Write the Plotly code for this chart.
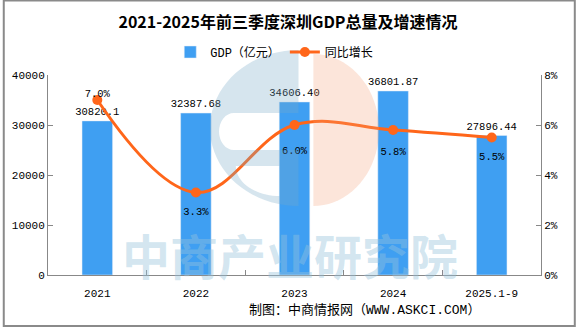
import math
import plotly.graph_objects as go

# ---- data ----
years = ["2021", "2022", "2023", "2024", "2025.1-9"]
gdp = [30820.1, 32387.68, 34606.40, 36801.87, 27896.44]
gdp_text = ["30820.1", "32387.68", "34606.40", "36801.87", "27896.44"]
growth = [7.0, 3.3, 6.0, 5.8, 5.5]
growth_text = ["7.0%", "3.3%", "6.0%", "5.8%", "5.5%"]
growth_pos = ["top center", "bottom center", "bottom center", "bottom center", "bottom center"]

W, H = 576, 327
L, R, T, B = 45, 35, 75, 52
PW, PH = W - L - R, H - T - B

def px(x, y):
    return ((x - L) / PW, (H - B - y) / PH)

def path_from(points_list):
    s = ""
    for pts in points_list:
        for i, (x, y) in enumerate(pts):
            fx, fy = px(x, y)
            s += ("M" if i == 0 else "L") + f"{fx:.4f},{fy:.4f} "
        s += "Z "
    return s

def arc(cx, cy, rx, ry, a0, a1, n=40):
    pts = []
    for i in range(n + 1):
        a = math.radians(a0 + (a1 - a0) * i / n)
        pts.append((cx + rx * math.cos(a), cy - ry * math.sin(a)))
    return pts

FONT = "Liberation Mono, Noto Sans CJK SC, monospace"
BLUE = "#3F9FF2"
ORANGE = "#FF661A"

fig = go.Figure()
fig.add_trace(go.Bar(
    x=years, y=gdp, name="GDP（亿元）", marker_color=BLUE, width=0.31,
    text=gdp_text, textposition="outside", constraintext="none",
    textfont=dict(size=10.5, color="#000", family=FONT),
    cliponaxis=False, yaxis="y",
))
fig.add_trace(go.Scatter(
    x=years, y=growth, name="同比增长", mode="lines+markers",
    line=dict(color=ORANGE, width=3, shape="spline", smoothing=1.1),
    marker=dict(size=10, color=ORANGE),
    cliponaxis=False, yaxis="y2",
))
# percentage labels (invisible markers to control offset)
fig.add_trace(go.Scatter(
    x=years, y=growth, mode="markers+text", showlegend=False, hoverinfo="skip",
    marker=dict(size=[0, 22, 32, 26, 22], color="rgba(0,0,0,0)", opacity=0,
                line=dict(width=0, color="rgba(0,0,0,0)")),
    text=growth_text, textposition=growth_pos,
    textfont=dict(size=10.5, color="#000", family=FONT),
    cliponaxis=False, yaxis="y2",
))

# watermark logo
outer = arc(297, 128, 89, 78, 90, 270)
slot = [(297, 113), (297, 150), (232, 150)] + arc(232, 131.5, 15, 18.5, 270, 90, 16)[1:-1] + [(232, 113)]
hole2 = [(278, 166), (278, 196)] + arc(278, 166, 44, 30, 270, 180, 20)[1:]
blue_path = path_from([outer, slot, hole2])
orange = arc(312, 130, 66, 76, 90, -90)
orange_path = path_from([orange])

shapes = [
    dict(type="path", xref="paper", yref="paper", path=blue_path,
         fillcolor="rgba(120,170,200,0.30)", line=dict(width=0), layer="above"),
    dict(type="path", xref="paper", yref="paper", path=orange_path,
         fillcolor="rgba(245,160,120,0.27)", line=dict(width=0), layer="above"),
]
x0, y0 = px(0.5, 0.5)
x1, y1 = px(W - 1, H - 1)
shapes.append(dict(type="rect", xref="paper", yref="paper", x0=x0, y0=y1, x1=x1, y1=y0,
                   line=dict(color="#8a8a8a", width=2), fillcolor="rgba(0,0,0,0)", layer="above"))

annotations = [
    dict(text="<b>中商产业研究院</b>", xref="paper", yref="paper", x=px(288, 0)[0], y=px(0, 254)[1],
         showarrow=False, font=dict(size=48, color="rgba(150,195,220,0.42)", family="Noto Sans CJK SC"),
         xanchor="center", yanchor="middle"),
    dict(text="制图：中商情报网（WWW.ASKCI.COM）", xref="paper", yref="paper",
         x=px(482, 0)[0], y=px(0, 310)[1], showarrow=False,
         font=dict(size=13, color="#000", family=FONT), xanchor="right", yanchor="middle"),
]

fig.update_layout(
    width=W, height=H, margin=dict(l=L, r=R, t=T, b=B),
    paper_bgcolor="white", plot_bgcolor="white",
    title=dict(text="<b>2021-2025年前三季度深圳GDP总量及增速情况</b>", x=0.5, xanchor="center",
               y=1 - 22 / H, yanchor="middle",
               font=dict(size=16, color="#000", family="Noto Sans CJK SC")),
    font=dict(family=FONT, size=12, color="#000"),
    showlegend=True,
    legend=dict(orientation="h", x=px(168, 0)[0], xanchor="left", y=px(0, 52)[1], yanchor="middle",
                font=dict(size=12, family=FONT), bgcolor="rgba(0,0,0,0)", itemwidth=30,
                tracegroupgap=0),
    xaxis=dict(showline=True, linecolor="#888", linewidth=1, ticks="inside", tickson="boundaries",
               ticklen=5, tickcolor="#888", showgrid=False, ticklabelstandoff=8,
               tickfont=dict(size=11, family=FONT)),
    yaxis=dict(range=[0, 40000], dtick=10000, tickformat="d", showline=True, linecolor="#888", linewidth=1,
               ticks="inside", ticklen=5, tickcolor="#888", showgrid=False, zeroline=False,
               tickfont=dict(size=11, family=FONT)),
    yaxis2=dict(range=[0, 8], dtick=2, ticksuffix="%", overlaying="y", side="right",
                showline=True, linecolor="#888", linewidth=1, ticks="inside", ticklen=5,
                tickcolor="#888", showgrid=False, zeroline=False,
                tickfont=dict(size=11, family=FONT)),
    shapes=shapes,
    annotations=annotations,
)

fig.write_html("out.html")
